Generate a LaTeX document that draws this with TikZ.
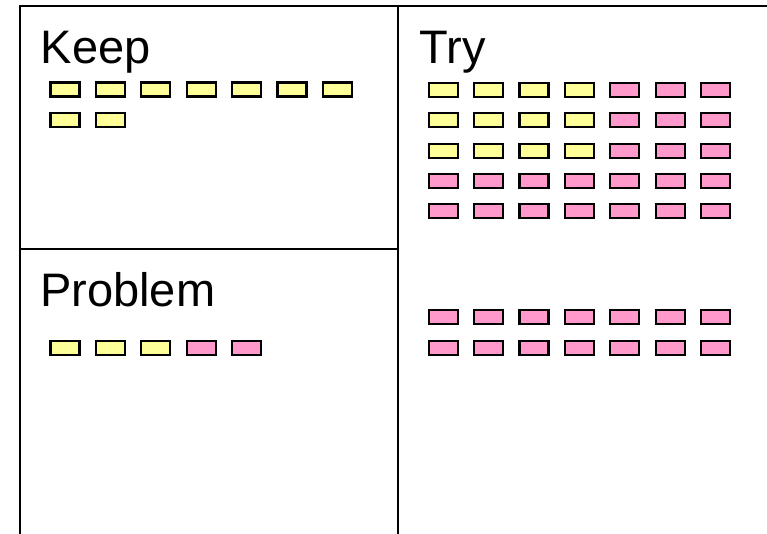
\documentclass[tikz,border=0pt]{standalone}
\usepackage{fontspec}
\setmainfont{Liberation Sans}
\usetikzlibrary{positioning}
\definecolor{noteyellow}{RGB}{255,255,153}
\definecolor{notepink}{RGB}{255,153,204}

\begin{document}
\begin{tikzpicture}[x=1pt, y=-1pt,
        frame/.style={line width=2pt, black},
        title/.style={anchor=base west, inner sep=0pt, font=\fontsize{47}{50}\selectfont},
        note/.style={rectangle, draw=black, line width=2.3pt, minimum width=29pt,
          minimum height=14pt, inner sep=0pt},
        keepnote/.style={note, fill=noteyellow},
        trynote/.style={note, fill=notepink}]
        \useasboundingbox (0,0) rectangle (767,534);
        % frame of the board
        \draw[frame] (20,534) -- (20,6) -- (767,6);
        \draw[frame] (398,6) -- (398,534);
        \draw[frame] (20,249) -- (398,249);
        % headings
        \node[title] (keep) at (40.5,64) {Keep};
        \node[title] (try) at (419.5,64) {Try};
        \node[title] (problem) at (40,306.5) {Problem};
        % Keep
        \foreach \i in {0,...,6}
          \node[keepnote] (keep-1-\i) at (65+45.4*\i,89.5) {};
        \foreach \i in {0,1}
          \node[keepnote] (keep-2-\i) at (65+45.4*\i,120.3) {};
        % Problem
        \foreach \i in {0,1,2}
          \node[keepnote] (prob-\i) at (65+45.4*\i,347.7) {};
        \foreach \i in {3,4}
          \node[trynote] (prob-\i) at (65+45.4*\i,347.7) {};
        % Try
        \foreach \r/\y in {0/89.7,1/120.3,2/150.7} {
          \foreach \i in {0,...,3}
            \node[keepnote] (try-\r-\i) at (443.2+45.4*\i,\y) {};
          \foreach \i in {4,5,6}
            \node[trynote] (try-\r-\i) at (443.2+45.4*\i,\y) {};
        }
        \foreach \r/\y in {3/181,4/211.3,5/317,6/347.7}
          \foreach \i in {0,...,6}
            \node[trynote] (try-\r-\i) at (443.2+45.4*\i,\y) {};
      \end{tikzpicture}
\end{document}
